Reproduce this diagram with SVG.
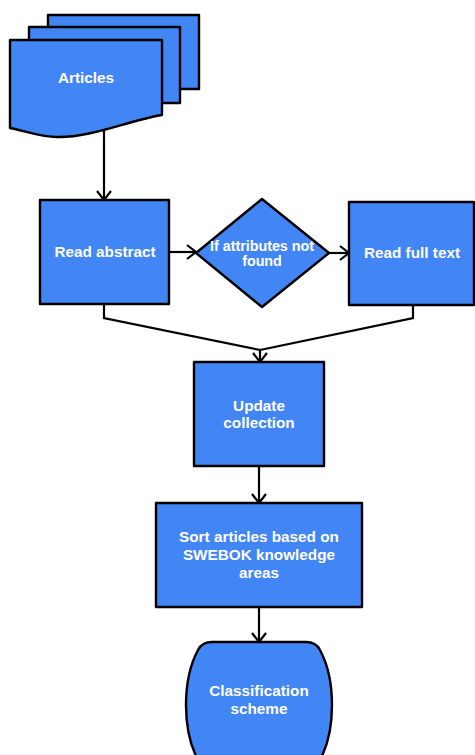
<svg xmlns="http://www.w3.org/2000/svg" width="475" height="755" viewBox="0 0 475 755">
  <style>
    .shape { fill: #4285f4; stroke: #000; stroke-width: 2.4; stroke-linejoin: round; }
    .label { fill: #fff; font-family: "Liberation Sans", Arial, sans-serif; font-weight: bold; font-size: 15.3px; text-anchor: middle; }
    .small { font-size: 14.3px; }
    .edge { fill: none; stroke: #000; stroke-width: 2.2; }
  </style>
  <defs>
    <marker id="arrow" markerWidth="14" markerHeight="16" refX="10" refY="8" orient="auto" markerUnits="userSpaceOnUse">
      <path d="M1,1 L10,8 L1,15" fill="none" stroke="#000" stroke-width="2.2"/>
    </marker>
  </defs>
  <rect width="475" height="755" fill="#fff"/>

  <g id="connectors">
    <path class="edge" d="M104 128 V200" marker-end="url(#arrow)"/>
    <path class="edge" d="M169 252 H196" marker-end="url(#arrow)"/>
    <path class="edge" d="M329 253 H349" marker-end="url(#arrow)"/>
    <path class="edge" d="M104 304 V318 L260 350 V362" marker-end="url(#arrow)"/>
    <path class="edge" d="M413 305 V318 L260 350"/>
    <path class="edge" d="M259 466 V503" marker-end="url(#arrow)"/>
    <path class="edge" d="M259 607 V642" marker-end="url(#arrow)"/>
  </g>

  <g id="articles">
    <rect class="shape" x="48" y="15" width="151" height="74"/>
    <rect class="shape" x="29" y="27" width="151" height="76"/>
    <path class="shape" d="M10 40 H162 V115 C130 120 90 138 57 137 C40 137 25 131 10 128 Z"/>
    <text class="label" x="86" y="83">Articles</text>
  </g>

  <g id="read-abstract">
    <rect class="shape" x="40" y="200" width="129" height="104"/>
    <text class="label" x="105" y="257">Read abstract</text>
  </g>

  <g id="attributes-check">
    <path class="shape" d="M262 199 L329 253 L262 307 L196 253 Z"/>
    <text class="label small" x="262" y="251">If attributes not</text>
    <text class="label small" x="262" y="266">found</text>
  </g>

  <g id="read-full-text">
    <rect class="shape" x="349" y="202" width="125" height="103"/>
    <text class="label" x="412" y="258">Read full text</text>
  </g>

  <g id="update-collection">
    <rect class="shape" x="194" y="362" width="130" height="104"/>
    <text class="label" x="259" y="411">Update</text>
    <text class="label" x="259" y="428">collection</text>
  </g>

  <g id="sort-articles">
    <rect class="shape" x="156" y="503" width="206" height="104"/>
    <text class="label" x="259" y="542">Sort articles based on</text>
    <text class="label" x="259" y="560">SWEBOK knowledge</text>
    <text class="label" x="259" y="578">areas</text>
  </g>

  <g id="classification-scheme">
    <path class="shape" d="M212 642 H306 Q316 642 320 650 C336 680 336 730 320 760 Q316 768 306 768 H212 Q202 768 198 760 C182 730 182 680 198 650 Q202 642 212 642 Z"/>
    <text class="label" x="259" y="696">Classification</text>
    <text class="label" x="259" y="714">scheme</text>
  </g>
</svg>
